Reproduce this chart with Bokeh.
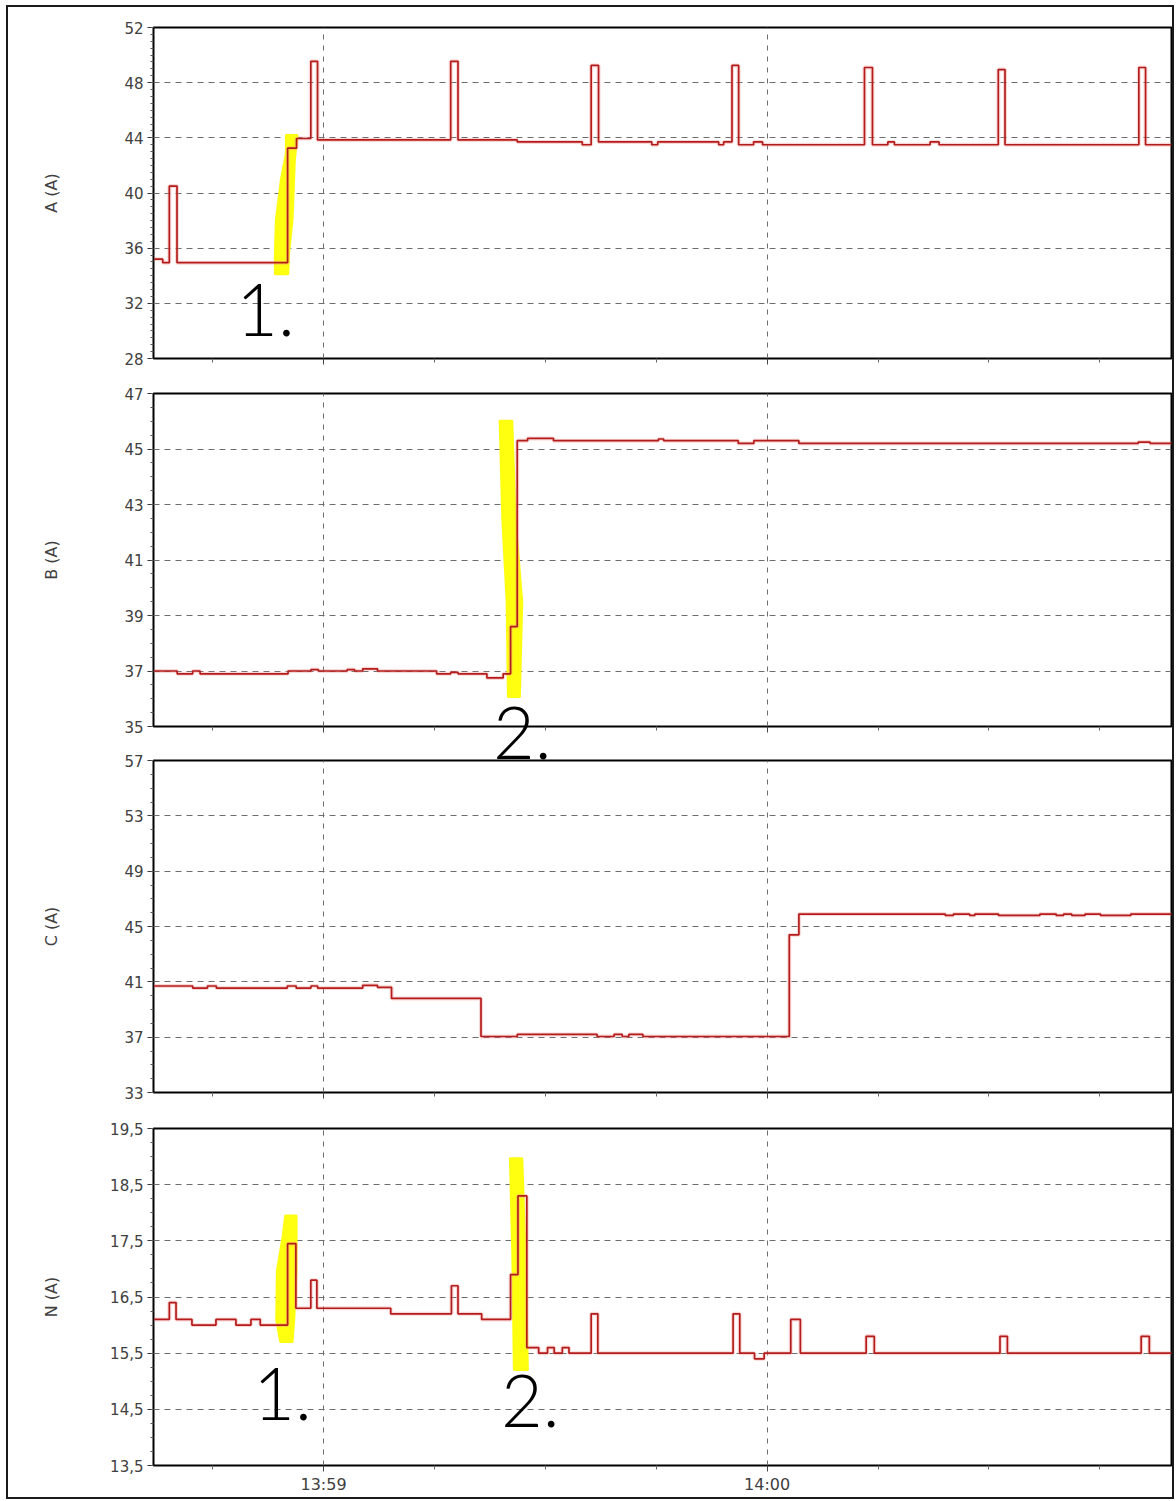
from bokeh.plotting import figure
from bokeh.layouts import column
from bokeh.models import FixedTicker, Label, Range1d, ColumnDataSource, Div
from bokeh.embed import file_html
from bokeh.resources import INLINE
import numpy as np

# time axis: seconds after 13:59:00
X_START, X_END = -23.0, 114.7
x_major = [0, 60]
x_minor = [-15, 15, 30, 45, 75, 90, 105]
x_labels = {0: "13:59", 60: "14:00"}

# ---- phase A ----
A_t = [-23.0, -21.75, -20.86, -19.82, -4.86, -3.65, -1.72, -0.81, 17.2, 18.19, 26.2, 35.0, 36.2, 37.2,
       44.4, 45.2, 53.45, 54.12, 55.25, 56.15, 58.17, 59.39, 73.17, 74.25, 76.33, 77.22, 82.05, 83.26,
       91.27, 92.18, 110.28, 111.19, 114.7]
A_v = [35.2, 34.95, 40.5, 34.95, 43.25, 43.95, 49.55, 43.85, 49.55, 43.85, 43.7, 43.5, 49.25, 43.7,
       43.5, 43.7, 43.5, 43.7, 49.25, 43.5, 43.7, 43.5, 49.1, 43.5, 43.7, 43.5, 43.7, 43.5,
       48.95, 43.5, 49.1, 43.5, 43.5]
A_ticks = [28, 32, 36, 40, 44, 48, 52]

# ---- phase B ----
B_t = [-23.0, -19.8, -17.7, -16.7, -4.8, -1.7, -0.7, 3.2, 4.2, 5.3, 7.3, 15.3, 17.2, 18.2, 22.1, 24.3,
       25.3, 26.2, 27.6, 31.1, 45.3, 46.0, 56.1, 58.2, 64.3, 110.2, 111.8, 114.7]
B_v = [37.0, 36.9, 37.0, 36.9, 37.0, 37.05, 37.0, 37.05, 37.0, 37.08, 37.0, 36.9, 36.95, 36.9, 36.75, 36.9,
       38.6, 45.3, 45.38, 45.3, 45.36, 45.3, 45.2, 45.3, 45.2, 45.25, 45.2, 45.2]
B_ticks = [35, 37, 39, 41, 43, 45, 47]

# ---- phase C ----
C_t = [-23.0, -17.7, -15.7, -14.5, -4.9, -3.7, -1.7, -0.8, 5.3, 7.3, 9.2, 21.3, 26.2, 37.0, 39.3, 40.4,
       41.3, 43.2, 63.0, 64.3, 84.1, 85.2, 87.4, 88.1, 91.3, 96.9, 99.1, 100.1, 101.2, 103.0, 105.1,
       109.2, 114.7]
C_v = [40.7, 40.55, 40.7, 40.55, 40.7, 40.55, 40.7, 40.55, 40.75, 40.6, 39.8, 37.05, 37.2, 37.05, 37.2, 37.05,
       37.2, 37.05, 44.4, 45.9, 45.8, 45.9, 45.8, 45.9, 45.8, 45.9, 45.8, 45.9, 45.8, 45.9, 45.8,
       45.9, 45.9]
C_ticks = [33, 37, 41, 45, 49, 53, 57]

# ---- neutral N ----
N_t = [-23.0, -20.86, -19.95, -17.8, -14.55, -11.85, -9.82, -8.56, -4.86, -3.74, -1.72, -0.9, 9.09, 17.3,
       18.19, 21.39, 25.3, 26.3, 27.5, 29.1, 30.3, 31.2, 32.3, 33.2, 36.2, 37.1, 55.4, 56.3, 58.3, 59.6,
       63.2, 64.5, 73.4, 74.5, 91.5, 92.5, 110.6, 111.7, 114.7]
N_v = [16.1, 16.4, 16.1, 16.0, 16.1, 16.0, 16.1, 16.0, 17.45, 16.3, 16.8, 16.3, 16.2, 16.7,
       16.2, 16.1, 16.9, 18.3, 15.6, 15.5, 15.6, 15.5, 15.6, 15.5, 16.2, 15.5, 16.2, 15.5, 15.4, 15.5,
       16.1, 15.5, 15.8, 15.5, 15.8, 15.5, 15.8, 15.5, 15.5]
N_ticks = [13.5, 14.5, 15.5, 16.5, 17.5, 18.5, 19.5]
N_tick_text = ["13,5", "14,5", "15,5", "16,5", "17,5", "18,5", "19,5"]

# hand-drawn yellow highlighter strokes (data coords)
A_hl_x = [-5.09, -3.51, -3.88, -4.19, -4.65, -4.78, -6.58, -6.58, -6.44, -5.77, -5.09]
A_hl_y = [44.2, 44.2, 42.4, 38.07, 35.67, 34.1, 34.1, 35.67, 38.07, 40.96, 42.88]
B_hl_x = [23.82, 25.53, 25.98, 26.88, 26.56, 24.94, 24.77, 24.18]
B_hl_y = [46.02, 46.02, 42.48, 39.48, 36.06, 36.06, 39.48, 42.48]
N_hl1_x = [-5.18, -3.65, -3.65, -3.97, -4.19, -5.86, -6.4, -6.31, -5.54]
N_hl1_y = [17.95, 17.95, 16.97, 16.09, 15.7, 15.7, 16.09, 16.97, 17.57]
N_hl2_x = [25.21, 26.88, 27.33, 27.64, 25.75, 25.53]
N_hl2_y = [18.97, 18.97, 17.27, 15.2, 15.2, 17.27]

# handwritten marks: (text, x, y)
A_notes = [("1.", -11.8, 31.5)]
N_notes = [("1.", -9.5, 14.78), ("2.", 24.0, 14.64)]
B_note = "2."   # straddles the lower edge of panel B

LINE = "#b41c1c"
GRID = "#6e6e6e"
TXT = "#404040"
FONT = "DejaVu Sans"
HAND_FONT = "Lato Light"


def panel(label, lo, hi, ticks, tick_text, minor_step, top, fh, bottom, standoff, show_x_labels=False):
    p = figure(frame_width=1018, frame_height=fh, output_backend="svg", toolbar_location=None,
               x_range=Range1d(X_START, X_END), y_range=Range1d(lo, hi),
               min_border_left=145, min_border_right=1, min_border_top=top, min_border_bottom=bottom,
               background_fill_color="white", border_fill_color="white")
    p.outline_line_color = "black"
    p.outline_line_width = 2
    p.yaxis.ticker = FixedTicker(ticks=ticks, minor_ticks=list(np.arange(lo, hi + 1e-9, minor_step)))
    if tick_text is not None:
        p.yaxis.major_label_overrides = dict(zip(ticks, tick_text))
    p.yaxis.axis_label = label
    p.yaxis.axis_label_text_font_style = "normal"
    p.yaxis.axis_label_text_font = FONT
    p.yaxis.axis_label_text_font_size = "16px"
    p.yaxis.axis_label_text_color = TXT
    p.yaxis.axis_label_standoff = standoff
    p.yaxis.major_label_text_font = FONT
    p.yaxis.major_label_text_font_size = "15px"
    p.yaxis.major_label_text_color = TXT
    p.yaxis.major_label_standoff = 4
    p.yaxis.major_tick_out = 6
    p.yaxis.major_tick_in = 0
    p.yaxis.minor_tick_out = 3
    p.yaxis.minor_tick_in = 0
    p.yaxis.axis_line_color = "black"
    p.yaxis.major_tick_line_color = "#333333"
    p.yaxis.minor_tick_line_color = "#555555"

    p.xaxis.ticker = FixedTicker(ticks=x_major, minor_ticks=x_minor)
    p.xaxis.major_tick_out = 6
    p.xaxis.major_tick_in = 0
    p.xaxis.minor_tick_out = 4
    p.xaxis.minor_tick_in = 0
    p.xaxis.axis_line_color = "black"
    p.xaxis.major_tick_line_color = "#444444"
    p.xaxis.minor_tick_line_color = "#666666"
    if show_x_labels:
        p.xaxis.major_label_overrides = x_labels
        p.xaxis.major_label_text_font = FONT
        p.xaxis.major_label_text_font_size = "16px"
        p.xaxis.major_label_text_color = TXT
        p.xaxis.major_label_standoff = 3
    else:
        p.xaxis.major_label_text_font_size = "8px"
        p.xaxis.major_label_text_color = None
        p.xaxis.major_label_standoff = 0

    p.ygrid.grid_line_color = GRID
    p.ygrid.grid_line_dash = "6 5"
    p.ygrid.grid_line_width = 1
    p.xgrid.grid_line_color = GRID
    p.xgrid.grid_line_dash = "5 6"
    p.xgrid.grid_line_width = 1
    return p


def draw_series(p, t, v):
    src = ColumnDataSource(dict(t=t, v=v))
    p.step(x="t", y="v", source=src, mode="after", line_color="#f08c8c", line_width=4, line_alpha=0.35)
    p.step(x="t", y="v", source=src, mode="after", line_color=LINE, line_width=1.7)


def highlight(p, xs, ys):
    p.patch(xs, ys, fill_color="#ffff10", line_color="#ffff10", line_width=2, fill_alpha=1.0)


def notes(p, items):
    for txt, x, y in items:
        p.add_layout(Label(x=x, y=y, text=txt, text_font=HAND_FONT, text_font_size="72px",
                           text_color="black", text_align="left", text_baseline="alphabetic"))


pA = panel("A (A)", 28, 52, A_ticks, None, 0.5, 20, 331, 18, 60)
highlight(pA, A_hl_x, A_hl_y)
draw_series(pA, A_t, A_v)
notes(pA, A_notes)

pB = panel("B (A)", 35, 47, B_ticks, None, 0.5, 17, 333, 24, 60)
highlight(pB, B_hl_x, B_hl_y)
draw_series(pB, B_t, B_v)

pC = panel("C (A)", 33, 57, C_ticks, None, 1.0, 10, 332, 18, 60)
draw_series(pC, C_t, C_v)

pN = panel("N (A)", 13.5, 19.5, N_ticks, N_tick_text, 0.25, 18, 337, 32, 46, show_x_labels=True)
highlight(pN, N_hl1_x, N_hl1_y)
highlight(pN, N_hl2_x, N_hl2_y)
draw_series(pN, N_t, N_v)
notes(pN, N_notes)

# handwritten "2." that crosses the bottom edge of panel B
note_B = Div(text=B_note, styles={"position": "absolute", "left": "480px", "top": "683px",
                                  "font-family": HAND_FONT, "font-size": "72px", "line-height": "1",
                                  "color": "black", "z-index": "10", "pointer-events": "none"})

layout = column(pA, pB, pC, pN, note_B, spacing=0,
                styles={"border": "2px solid #1a1a1a", "margin-left": "6px", "margin-top": "5px",
                        "position": "relative"})

open("out.html", "w").write(file_html(layout, INLINE))
